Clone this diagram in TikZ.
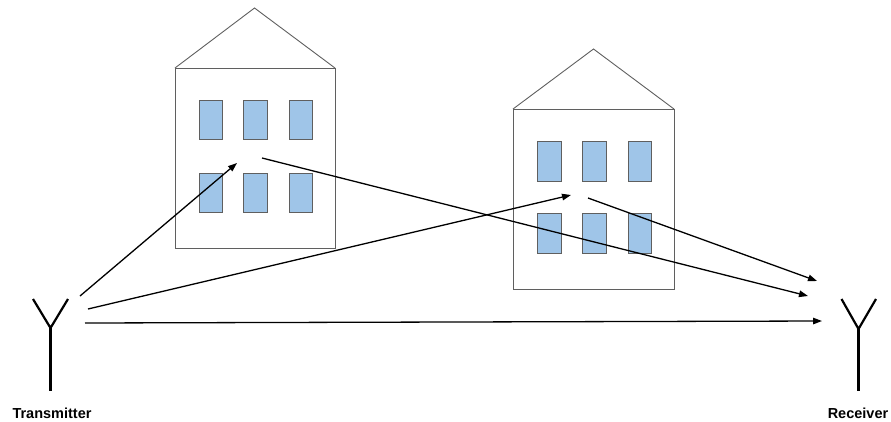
\documentclass[tikz,border=0pt]{standalone}
\usepackage{fontspec}
\setmainfont{Liberation Sans}
\usepackage{xcolor}
\usepackage{tikz}
\usetikzlibrary{arrows.meta, positioning, calc}

\definecolor{winblue}{HTML}{9FC5E8}
\definecolor{wallgray}{HTML}{5F5F5F}

\tikzset{
	wall/.style={draw=wallgray, line width=0.9pt},
	window/.style={draw=wallgray, fill=winblue, line width=0.9pt},
	antenna/.style={line width=2.2pt},
	ray/.style={line width=1.3pt, -{Triangle[length=9pt,width=6.5pt]}},
	caption/.style={font=\fontsize{14.5}{16}\selectfont\bfseries}
}

\begin{document}
\begin{tikzpicture}[x=1pt, y=-1pt]
			
			\useasboundingbox (0,0) rectangle (891,421);
			
			% ----- Building 1 (left) -----
			\draw[wall] (175,68) rectangle (335,248);
			\draw[wall] (175,68) -- (254.5,8) -- (335,68);
			% windows, upper row
			\draw[window] (199,100) rectangle (222,139);
			\draw[window] (243,100) rectangle (267,139);
			\draw[window] (289,100) rectangle (312,139);
			% windows, lower row
			\draw[window] (199,173) rectangle (222,212);
			\draw[window] (243,173) rectangle (267,212);
			\draw[window] (289,173) rectangle (312,212);
			
			% ----- Building 2 (right) -----
			\draw[wall] (513,109) rectangle (674,289);
			\draw[wall] (513,109) -- (593.5,49) -- (674,109);
			% windows, upper row
			\draw[window] (537,141) rectangle (561,181);
			\draw[window] (582,141) rectangle (606,181);
			\draw[window] (628,141) rectangle (651,181);
			% windows, lower row
			\draw[window] (537,213) rectangle (561,253);
			\draw[window] (582,213) rectangle (606,253);
			\draw[window] (628,213) rectangle (651,253);
			
			% ----- Antennas -----
			\coordinate (txfoot) at (50.5,328);
			\draw[antenna] (33,299) -- (txfoot) -- (68,299);
			\draw[antenna] (txfoot) -- (50.5,391);
			\node[caption] (txlabel) at (52,413) {Transmitter};
			
			\coordinate (rxfoot) at (858.5,329);
			\draw[antenna] (841.5,299) -- (rxfoot) -- (876,299);
			\draw[antenna] (rxfoot) -- (858.5,391);
			\node[caption] (rxlabel) at (858,413) {Receiver};
			
			% ----- Ray end points -----
			\coordinate (txa) at (80,296);
			\coordinate (txb) at (88,309);
			\coordinate (txc) at (85,323);
			\coordinate (hitA) at (237,163);
			\coordinate (outA) at (262,158);
			\coordinate (hitB) at (571,195);
			\coordinate (outB) at (588,198);
			\coordinate (rxa) at (817,281);
			\coordinate (rxb) at (808,296);
			\coordinate (rxc) at (822,321);
			
			% ----- Rays -----
			\draw[ray] (txa) -- (hitA);
			\draw[ray] (txb) -- (hitB);
			\draw[ray] (txc) -- (rxc);
			\draw[ray] (outA) -- (rxb);
			\draw[ray] (outB) -- (rxa);
			
		\end{tikzpicture}
\end{document}
